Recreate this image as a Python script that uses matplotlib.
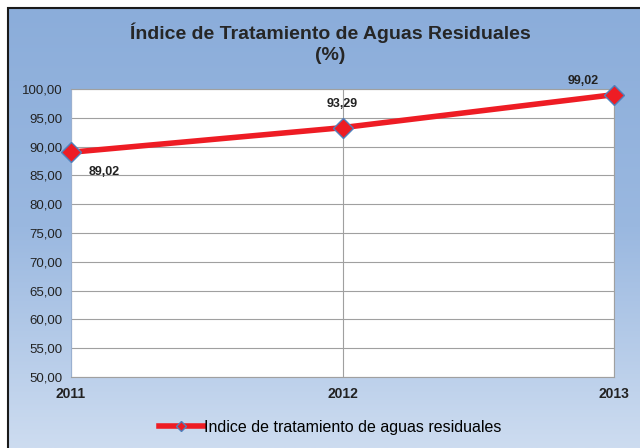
import matplotlib
matplotlib.use('Agg')
import matplotlib.pyplot as plt
import numpy as np
from matplotlib.patches import Rectangle
from matplotlib.colors import LinearSegmentedColormap

years = ['2011', '2012', '2013']
values = [89.02, 93.29, 99.02]
labels = ['89,02', '93,29', '99,02']
yticks = [50, 55, 60, 65, 70, 75, 80, 85, 90, 95, 100]

plt.rcParams['font.family'] = ['Liberation Sans', 'DejaVu Sans']

fig = plt.figure(figsize=(6.4, 4.48), dpi=100)
W, H = 640, 448

# fondo degradado con marco
bg = fig.add_axes([8 / W, 0, 1 - 8 / W, 1 - 8 / H], zorder=0)
cmap = LinearSegmentedColormap.from_list('bg', ['#8badda', '#9ab8e0', '#cddcf0'])
grad = np.linspace(0, 1, 256).reshape(-1, 1)
bg.imshow(grad, aspect='auto', cmap=cmap, extent=[0, 1, 0, 1], origin='upper')
bg.set_xlim(0, 1)
bg.set_ylim(0, 1)
bg.axis('off')
fig.patches.append(Rectangle((8 / W, -0.01), 1.1, 1 - 8 / H + 0.01, transform=fig.transFigure,
                             fill=False, edgecolor='#1a1a1a', linewidth=1.5, zorder=1))

ax = fig.add_axes([71 / W, (H - 377) / H, (614 - 71) / W, (377 - 89) / H], zorder=2)
ax.set_facecolor('white')
x = np.arange(len(years))
ax.plot(x, values, color='#ee1c24', linewidth=4, marker='D', markersize=10,
        markerfacecolor='#ee1c24', markeredgecolor='#4f81bd', markeredgewidth=1,
        clip_on=False, zorder=5, label='Indice de tratamiento de aguas residuales')
ax.set_xlim(0, 2)
ax.set_ylim(50, 100)
ax.set_yticks(yticks)
ax.set_yticklabels(['%d,00' % v for v in yticks], fontsize=9.5, color='#222222')
ax.set_xticks(x)
ax.set_xticklabels(years, fontsize=10, fontweight='bold', color='#222222')
ax.tick_params(length=0, pad=6)
ax.tick_params(axis='x', pad=7)
ax.grid(True, color='#a0a0a0', linewidth=0.8)
for s in ax.spines.values():
    s.set_color('#a0a0a0')
    s.set_linewidth(0.8)
ax.spines['left'].set_color('#9ab0d0')

offsets = [(24, -14), (0, 17), (-22, 10)]
for xi, v, lab, off in zip(x, values, labels, offsets):
    ax.annotate(lab, (xi, v), xytext=off, textcoords='offset points',
                ha='center', va='center', fontsize=9, fontweight='bold', color='#222222')

fig.text(330 / W, 1 - 33 / H, 'Índice de Tratamiento de Aguas Residuales', ha='center', va='center',
         fontsize=14, fontweight='bold', color='#262626')
fig.text(330 / W, 1 - 56 / H, '(%)', ha='center', va='center',
         fontsize=14, fontweight='bold', color='#262626')

fig.legend(loc='center', bbox_to_anchor=(330 / W, 1 - 427 / H), frameon=False, fontsize=11.5,
           handlelength=2.8, handletextpad=0.0, markerscale=0.5)

fig.savefig('out.png', dpi=100)
